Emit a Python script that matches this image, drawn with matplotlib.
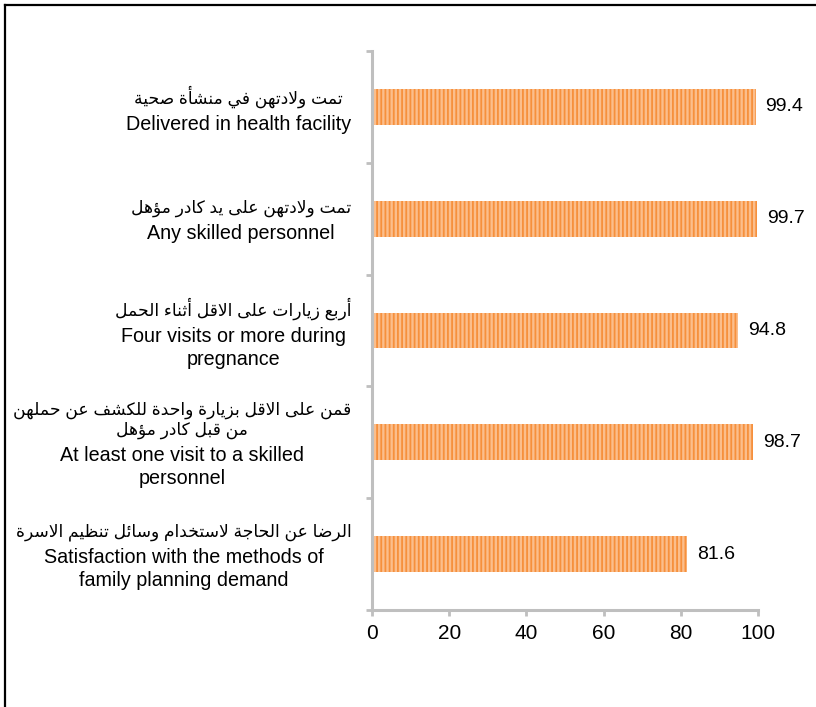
import matplotlib
matplotlib.use("Agg")
import matplotlib.pyplot as plt
from matplotlib.lines import Line2D
from matplotlib.offsetbox import TextArea, VPacker, AnnotationBbox

plt.rcParams['font.family'] = ['Liberation Sans', 'DejaVu Sans']
plt.rcParams['hatch.linewidth'] = 1.3

# ---------------- data (top to bottom) ----------------
labels_ar = [
    "تمت ولادتهن في منشأة صحية",
    "تمت ولادتهن على يد كادر مؤهل",
    "أربع زيارات على الاقل أثناء الحمل",
    "قمن على الاقل بزيارة واحدة للكشف عن حملهن\nمن قبل كادر مؤهل",
    "الرضا عن الحاجة لاستخدام وسائل تنظيم الاسرة",
]
labels_en = [
    "Delivered in health facility",
    "Any skilled personnel",
    "Four visits or more during\npregnance",
    "At least one visit to a skilled\npersonnel",
    "Satisfaction with the methods of\nfamily planning demand",
]
values = [99.4, 99.7, 94.8, 98.7, 81.6]
xticks = [0, 20, 40, 60, 80, 100]

# ---------------- minimal Arabic shaping ----------------
FORMS = {
    'ا': ('\uFE8D', '\uFE8E', None, None),
    'أ': ('\uFE83', '\uFE84', None, None),
    'إ': ('\uFE87', '\uFE88', None, None),
    'آ': ('\uFE81', '\uFE82', None, None),
    'ب': ('\uFE8F', '\uFE90', '\uFE91', '\uFE92'),
    'ة': ('\uFE93', '\uFE94', None, None),
    'ت': ('\uFE95', '\uFE96', '\uFE97', '\uFE98'),
    'ث': ('\uFE99', '\uFE9A', '\uFE9B', '\uFE9C'),
    'ج': ('\uFE9D', '\uFE9E', '\uFE9F', '\uFEA0'),
    'ح': ('\uFEA1', '\uFEA2', '\uFEA3', '\uFEA4'),
    'خ': ('\uFEA5', '\uFEA6', '\uFEA7', '\uFEA8'),
    'د': ('\uFEA9', '\uFEAA', None, None),
    'ذ': ('\uFEAB', '\uFEAC', None, None),
    'ر': ('\uFEAD', '\uFEAE', None, None),
    'ز': ('\uFEAF', '\uFEB0', None, None),
    'س': ('\uFEB1', '\uFEB2', '\uFEB3', '\uFEB4'),
    'ش': ('\uFEB5', '\uFEB6', '\uFEB7', '\uFEB8'),
    'ص': ('\uFEB9', '\uFEBA', '\uFEBB', '\uFEBC'),
    'ض': ('\uFEBD', '\uFEBE', '\uFEBF', '\uFEC0'),
    'ط': ('\uFEC1', '\uFEC2', '\uFEC3', '\uFEC4'),
    'ظ': ('\uFEC5', '\uFEC6', '\uFEC7', '\uFEC8'),
    'ع': ('\uFEC9', '\uFECA', '\uFECB', '\uFECC'),
    'غ': ('\uFECD', '\uFECE', '\uFECF', '\uFED0'),
    'ف': ('\uFED1', '\uFED2', '\uFED3', '\uFED4'),
    'ق': ('\uFED5', '\uFED6', '\uFED7', '\uFED8'),
    'ك': ('\uFED9', '\uFEDA', '\uFEDB', '\uFEDC'),
    'ل': ('\uFEDD', '\uFEDE', '\uFEDF', '\uFEE0'),
    'م': ('\uFEE1', '\uFEE2', '\uFEE3', '\uFEE4'),
    'ن': ('\uFEE5', '\uFEE6', '\uFEE7', '\uFEE8'),
    'ه': ('\uFEE9', '\uFEEA', '\uFEEB', '\uFEEC'),
    'و': ('\uFEED', '\uFEEE', None, None),
    'ؤ': ('\uFE85', '\uFE86', None, None),
    'ى': ('\uFEEF', '\uFEF0', None, None),
    'ي': ('\uFEF1', '\uFEF2', '\uFEF3', '\uFEF4'),
    'ئ': ('\uFE89', '\uFE8A', '\uFE8B', '\uFE8C'),
    'لا': ('\uFEFB', '\uFEFC', None, None),
    'لأ': ('\uFEF7', '\uFEF8', None, None),
    'لإ': ('\uFEF9', '\uFEFA', None, None),
    'لآ': ('\uFEF5', '\uFEF6', None, None),
}


def shape_line(s):
    toks = []
    i = 0
    while i < len(s):
        if s[i] == 'ل' and i + 1 < len(s) and s[i + 1] in 'اأإآ':
            toks.append(s[i:i + 2])
            i += 2
        else:
            toks.append(s[i])
            i += 1
    out = []
    n = len(toks)
    for k, t in enumerate(toks):
        if t not in FORMS:
            out.append(t)
            continue
        f = FORMS[t]
        prev = k > 0 and toks[k - 1] in FORMS and FORMS[toks[k - 1]][2] is not None
        nxt = f[2] is not None and k + 1 < n and toks[k + 1] in FORMS
        if prev and nxt:
            out.append(f[3])
        elif nxt:
            out.append(f[2])
        elif prev:
            out.append(f[1])
        else:
            out.append(f[0])
    return ''.join(reversed(out))


def shape(s):
    return '\n'.join(shape_line(l) for l in s.split('\n'))


# ---------------- figure ----------------
fig = plt.figure(figsize=(8.16, 7.07), dpi=100)
ax = fig.add_axes([0.456, 0.137, 0.473, 0.791])

ypos = list(range(len(values)))
ax.barh(ypos, values, height=0.32, color='#FBBE8C', edgecolor='#F6903C',
        linewidth=0, hatch='||||')

for y, v in zip(ypos, values):
    ax.annotate(f"{v:.1f}", xy=(v, y), xytext=(7, 0), textcoords='offset points',
                ha='left', va='center', fontsize=14, color='black')

ax.set_xlim(0, 100)
ax.set_ylim(len(values) - 0.5, -0.5)
ax.set_xticks(xticks)
ax.set_xticklabels([str(t) for t in xticks], fontsize=15)

bounds = [i - 0.5 for i in range(len(values) + 1)]
ax.set_yticks(bounds)
ax.set_yticklabels([''] * len(bounds))
ax.tick_params(axis='y', which='major', length=4, width=2, color='#BFBFBF',
               direction='out')
ax.tick_params(axis='x', which='major', length=4, width=2, color='#BFBFBF',
               direction='out', pad=6)

# category labels: Arabic line(s) above English line(s), centred block,
# right-aligned next to the axis
for y, ar, en in zip(ypos, labels_ar, labels_en):
    ta = TextArea(shape(ar), textprops=dict(fontsize=12.3, color='black',
                                           multialignment='center',
                                           linespacing=1.2))
    te = TextArea(en, textprops=dict(fontsize=14.2, color='black',
                                     multialignment='center',
                                     linespacing=1.3))
    box = VPacker(children=[ta, te], align='center', pad=0, sep=5)
    ab = AnnotationBbox(box, xy=(0, y), xycoords=ax.get_yaxis_transform(),
                        xybox=(-15, -2), boxcoords='offset points',
                        box_alignment=(1, 0.5), frameon=False,
                        annotation_clip=False)
    ax.add_artist(ab)

for side in ['top', 'right']:
    ax.spines[side].set_visible(False)
for side in ['left', 'bottom']:
    ax.spines[side].set_color('#BFBFBF')
    ax.spines[side].set_linewidth(2.2)

# outer frame (partially visible chart border)
fig.add_artist(Line2D([5 / 816, 1.0], [1 - 5 / 707, 1 - 5 / 707],
                      transform=fig.transFigure, color='black', linewidth=1.6))
fig.add_artist(Line2D([5 / 816, 5 / 816], [0.0, 1 - 5 / 707],
                      transform=fig.transFigure, color='black', linewidth=1.6))

fig.savefig("out.png", dpi=100)
